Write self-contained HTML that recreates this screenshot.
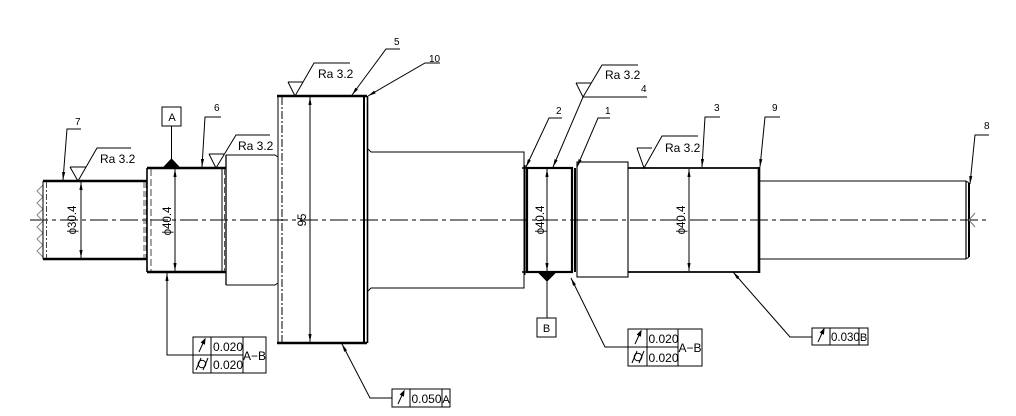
<!DOCTYPE html>
<html><head><meta charset="utf-8"><style>
html,body{margin:0;padding:0;background:#fff;}
svg{display:block;}
text{font-family:"Liberation Sans",sans-serif;fill:#000;stroke:none;}
</style></head><body>
<svg width="1016" height="416" viewBox="0 0 1016 416" xmlns="http://www.w3.org/2000/svg">
<defs>
<marker id="ar" viewBox="0 0 10 4" refX="10" refY="2" markerWidth="8" markerHeight="3.4" orient="auto-start-reverse" markerUnits="userSpaceOnUse"><path d="M0,0L10,2L0,4z" fill="#000"/></marker>
</defs>
<rect width="1016" height="416" fill="#fff"/>
<g stroke="#000" fill="none" stroke-width="1">
<!-- centerline -->
<line x1="30" y1="220" x2="990" y2="220" stroke-dasharray="18 4 4 4"/>

<!-- break zigzag -->
<polyline stroke="#888" points="43,185 37,191 43,197 37,203 43,209 37,215 43,221 37,227 43,233 37,239 43,245 37,251 43,257"/>

<!-- Segment 1 (phi30.4) -->
<line x1="43" y1="181" x2="147" y2="181" stroke-width="2.4"/>
<line x1="43" y1="259" x2="147" y2="259" stroke-width="2.4"/>
<line x1="43" y1="181" x2="43" y2="259"/>
<line x1="46.5" y1="182" x2="46.5" y2="258" stroke-dasharray="6 2 2 2" stroke="#444"/>
<line x1="144" y1="182" x2="144" y2="258" stroke-dasharray="6 3" stroke="#555"/>
<line x1="146" y1="182" x2="146" y2="258" stroke-dasharray="6 3" stroke="#555"/>

<!-- Segment 6 (phi40.4) -->
<line x1="147" y1="168" x2="226" y2="168" stroke-width="2.4"/>
<line x1="147" y1="272" x2="226" y2="272" stroke-width="2.4"/>
<line x1="147" y1="168" x2="147" y2="272" stroke-width="1.6"/>
<line x1="151" y1="169" x2="151" y2="271" stroke-dasharray="7 3" stroke="#444"/>
<line x1="222" y1="169" x2="222" y2="271"/>
<line x1="224.5" y1="169" x2="224.5" y2="271" stroke-dasharray="6 3" stroke="#555"/>

<!-- Shoulder -->
<line x1="226" y1="155" x2="226" y2="285" stroke-width="1.3"/>
<polyline points="226,155 275,155 278,157"/>
<polyline points="226,285 275,285 278,283"/>

<!-- Flange -->
<line x1="277" y1="96" x2="367" y2="96" stroke-width="2.4"/>
<line x1="277" y1="343" x2="367" y2="343" stroke-width="2.4"/>
<line x1="278" y1="96" x2="278" y2="343"/>
<line x1="282" y1="97" x2="282" y2="342" stroke-dasharray="8 2 2 2"/>
<line x1="364" y1="96" x2="364" y2="343" stroke-width="2"/>
<line x1="367.5" y1="96" x2="367.5" y2="343" stroke-width="1.6"/>

<!-- Middle section -->
<polyline points="368,149 371,152 524,152 524,288 371,288 368,291"/>

<!-- Segment 2/4 -->
<line x1="525" y1="165" x2="525" y2="275"/>
<rect x="527" y="168" width="45" height="104" stroke-width="2.2"/>
<line x1="522" y1="168" x2="527" y2="168" stroke-width="1.5"/>
<line x1="522" y1="272" x2="527" y2="272" stroke-width="1.5"/>
<line x1="575" y1="168" x2="575" y2="272" stroke-width="2"/>

<!-- Pos 1 box -->
<rect x="577" y="162" width="51" height="115" stroke-width="1.1"/>

<!-- Segment 3 -->
<line x1="628" y1="168" x2="760" y2="168" stroke-width="1.8"/>
<line x1="628" y1="272" x2="760" y2="272" stroke-width="1.8"/>
<line x1="759" y1="167" x2="759" y2="273" stroke-width="2.6"/>

<!-- Last segment -->
<line x1="760" y1="181" x2="966" y2="181"/>
<line x1="760" y1="259" x2="966" y2="259"/>
<line x1="966" y1="181" x2="966" y2="259" stroke-width="1.2"/>
<line x1="969" y1="183" x2="969" y2="257" stroke-width="2"/>
<polyline points="966,181 969,183"/>
<polyline points="966,259 969,257"/>
<polyline points="975,213 969,220 975,227" stroke="#777"/>

<!-- Dimension lines -->
<line x1="81" y1="182" x2="81" y2="258" marker-start="url(#ar)" marker-end="url(#ar)"/>
<line x1="175" y1="169" x2="175" y2="271" marker-start="url(#ar)" marker-end="url(#ar)"/>
<line x1="310" y1="97" x2="310" y2="342" marker-start="url(#ar)" marker-end="url(#ar)"/>
<line x1="547" y1="169" x2="547" y2="271" marker-start="url(#ar)" marker-end="url(#ar)"/>
<line x1="689" y1="169" x2="689" y2="271" marker-start="url(#ar)" marker-end="url(#ar)"/>

<!-- Roughness symbols -->
<path d="M70,167 L86,167 M70,167 L78,181 L97,148 L131,148"/>
<path d="M209,154 L224,154 M209,154 L216,168 L236,135 L270,135"/>
<path d="M288,82 L303,82 M288,82 L295,96 L314,63 L350,63"/>
<path d="M576,83 L591,83 M576,83 L583,97 L602,65 L638,65"/>
<path d="M637,148 L652,148 M637,148 L644,168 L662,136 L698,136"/>

<!-- Part leaders -->
<path d="M81,129 L67,129 L63,180" marker-end="url(#ar)"/>
<path d="M221,117 L205,117 L202,167" marker-end="url(#ar)"/>
<path d="M400,49 L386,49 L352,95" marker-end="url(#ar)"/>
<path d="M440,63 L425,63 L368,96" marker-end="url(#ar)"/>
<path d="M647,97 L583,97 L553,167" marker-end="url(#ar)"/>
<path d="M562,118 L549,118 L526,167" marker-end="url(#ar)"/>
<path d="M610,118 L598,118 L577,167" marker-end="url(#ar)"/>
<path d="M720,117 L705,117 L702,167" marker-end="url(#ar)"/>
<path d="M780,117 L765,117 L760,167" marker-end="url(#ar)"/>
<path d="M989,135 L975,135 L970,184" marker-end="url(#ar)"/>

<!-- Datum A -->
<rect x="162" y="107" width="19" height="19"/>
<line x1="171.5" y1="126" x2="171.5" y2="160"/>
<polygon points="163,168 180,168 171.5,159" fill="#000"/>
<!-- Datum B -->
<rect x="537" y="318" width="19" height="19"/>
<line x1="547" y1="280" x2="547" y2="318"/>
<polygon points="538,272 556,272 547,281" fill="#000"/>

<!-- FCF leaders -->
<path d="M193,355 L167,355 L167,273" marker-end="url(#ar)"/>
<path d="M392,398 L370,398 L342,344" marker-end="url(#ar)"/>
<path d="M628,347 L605,347 L571,278" marker-end="url(#ar)"/>
<path d="M812,337 L790,337 L733,272" marker-end="url(#ar)"/>

<!-- FCF left -->
<rect x="193" y="337" width="73" height="36"/>
<line x1="193" y1="355" x2="243" y2="355"/>
<line x1="211" y1="337" x2="211" y2="373"/>
<line x1="243" y1="337" x2="243" y2="373"/>
<path d="M199,352 L204,341"/><polygon points="205,339 201.5,342.5 204.5,344" fill="#000"/>
<circle cx="202" cy="364" r="3.8"/><path d="M196,370 L201,358 M203,370 L208,358"/>

<!-- FCF flange -->
<rect x="392" y="389" width="58" height="18"/>
<line x1="410" y1="389" x2="410" y2="407"/>
<line x1="442" y1="389" x2="442" y2="407"/>
<path d="M398,404 L403,393"/><polygon points="404,391 400.5,394.5 403.5,396" fill="#000"/>

<!-- FCF right A-B -->
<rect x="628" y="329" width="74" height="37"/>
<line x1="628" y1="347" x2="678" y2="347"/>
<line x1="647" y1="329" x2="647" y2="366"/>
<line x1="678" y1="329" x2="678" y2="366"/>
<path d="M635,344 L640,333"/><polygon points="641,331 637.5,334.5 640.5,336" fill="#000"/>
<circle cx="638" cy="357" r="3.8"/><path d="M632,363 L637,351 M639,363 L644,351"/>

<!-- FCF 0.030 B -->
<rect x="812" y="328" width="56" height="17"/>
<line x1="830" y1="328" x2="830" y2="345"/>
<line x1="859" y1="328" x2="859" y2="345"/>
<path d="M818,342 L823,331"/><polygon points="824,329 820.5,332.5 823.5,334" fill="#000"/>
</g>

<!-- Texts -->
<g font-size="11">
<text x="100" y="163" font-size="12">Ra 3.2</text>
<text x="238" y="150" font-size="12">Ra 3.2</text>
<text x="318" y="78" font-size="12">Ra 3.2</text>
<text x="605" y="79" font-size="12">Ra 3.2</text>
<text x="665" y="152" font-size="12">Ra 3.2</text>

<text x="75" y="125" font-size="10">7</text>
<text x="214" y="111" font-size="10">6</text>
<text x="394" y="45" font-size="10">5</text>
<text x="429" y="62" font-size="10">10</text>
<text x="641" y="92" font-size="10">4</text>
<text x="556" y="114" font-size="10">2</text>
<text x="605" y="114" font-size="10">1</text>
<text x="714" y="111" font-size="10">3</text>
<text x="772" y="111" font-size="10">9</text>
<text x="984" y="129" font-size="10">8</text>

<text x="172" y="121" font-size="11" text-anchor="middle">A</text>
<text x="546.5" y="332" font-size="11" text-anchor="middle">B</text>

<text transform="translate(76,220) rotate(-90)" text-anchor="middle" font-size="11.5">ϕ30.4</text>
<text transform="translate(171,221) rotate(-90)" text-anchor="middle" font-size="11.5">ϕ40.4</text>
<text transform="translate(306,220) rotate(-90)" text-anchor="middle" font-size="11.5">95</text>
<text transform="translate(544,220) rotate(-90)" text-anchor="middle" font-size="11.5">ϕ40.4</text>
<text transform="translate(685,220) rotate(-90)" text-anchor="middle" font-size="11.5">ϕ40.4</text>

<text x="213" y="351" font-size="12">0.020</text>
<text x="213" y="369" font-size="12">0.020</text>
<text x="254.5" y="360" text-anchor="middle" font-size="12">A−B</text>

<text x="411.5" y="403" font-size="12">0.050</text>
<text x="446" y="403" text-anchor="middle">A</text>

<text x="648.5" y="343" font-size="12">0.020</text>
<text x="648.5" y="362" font-size="12">0.020</text>
<text x="690" y="352" text-anchor="middle" font-size="12">A−B</text>

<text x="831" y="341" font-size="11.5">0.030</text>
<text x="863.5" y="341" text-anchor="middle">B</text>
</g>
</svg>
</body></html>
